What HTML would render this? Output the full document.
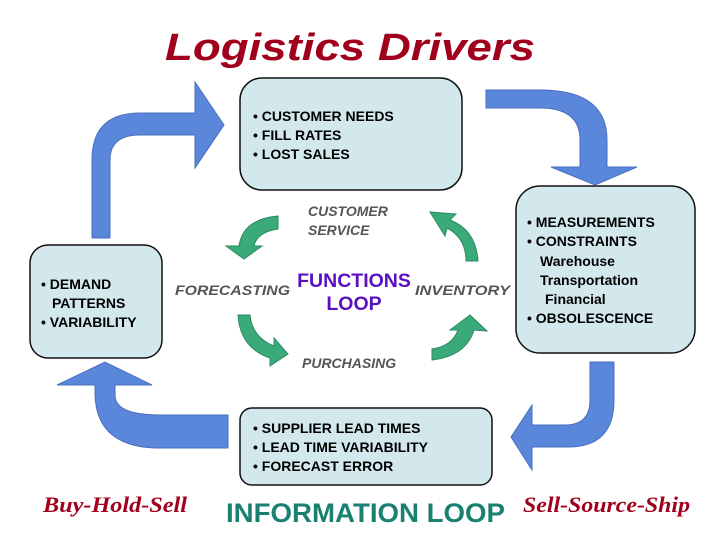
<!DOCTYPE html>
<html><head><meta charset="utf-8"><style>
body{margin:0;background:#fff;}
svg{display:block;}
.s{font-family:"Liberation Sans",Arial,sans-serif;}
.r{font-family:"Liberation Serif",serif;}
</style></head><body>
<svg width="720" height="540" viewBox="0 0 720 540" xmlns="http://www.w3.org/2000/svg">
<text class="s" x="165" y="60" font-size="38" font-weight="bold" font-style="italic" fill="#a0001c" textLength="370" lengthAdjust="spacingAndGlyphs">Logistics Drivers</text>

<g fill="#5b87db" stroke="#4a6fbf" stroke-width="1">
<path d="M92,238 L92,160 Q92,113 140,113 L195,113 L195,82 L224,125 L195,168 L195,135 L140,135 Q110,135 110,160 L110,238 Z"/>
<path d="M486,90 L540,90 Q607,90 607,140 L607,167 L637,167 L595,185 L551,167 L580,167 L580,140 Q580,108 540,108 L486,108 Z"/>
<path d="M590,362 L614,362 L614,400 Q614,447 568,447 L532,447 L532,470 L511,437 L532,405 L532,425 L565,425 Q590,425 590,400 Z"/>
<path d="M228,415 L228,448 L160,448 Q95,448 95,392 L95,385 L57,385 L105,362 L152,385 L115,385 L115,395 Q115,415 160,415 Z"/>
</g>

<g fill="#3aaa7a" stroke="#2a8a60" stroke-width="1">
<path d="M278,216 L278,229 Q257,232 254,246 L262,246 L244,259 L226,246 L239,246 Q243,219 278,216 Z"/>
<path d="M478,261 L466,261 Q466,238 447,228 L445,236 L430,212 L456,214 L450,220 Q476,230 478,261 Z"/>
<path d="M238,315 L250,315 Q252,337 274,346 L274,338 L288,354 L270,366 L270,358 Q240,348 238,315 Z"/>
<path d="M432,360 L432,349 Q452,346 458,330 L450,330 L470,315 L487,331 L474,330 Q466,356 432,360 Z"/>
</g>

<g fill="#d2e8ec" stroke="#111" stroke-width="1.5">
<rect x="240" y="78" width="222" height="112" rx="22"/>
<rect x="30" y="245" width="132" height="113" rx="18"/>
<rect x="516" y="186" width="179" height="167" rx="24"/>
<rect x="240" y="408" width="252" height="77" rx="12"/>
</g>

<g class="s" font-size="14" font-weight="bold" fill="#000">
<text x="253" y="121">• CUSTOMER NEEDS</text>
<text x="253" y="140">• FILL RATES</text>
<text x="253" y="159">• LOST SALES</text>
<text x="41" y="289">• DEMAND</text>
<text x="52" y="308">PATTERNS</text>
<text x="41" y="327">• VARIABILITY</text>
<text x="527" y="227">• MEASUREMENTS</text>
<text x="527" y="246">• CONSTRAINTS</text>
<text x="540" y="266">Warehouse</text>
<text x="540" y="285">Transportation</text>
<text x="545" y="304">Financial</text>
<text x="527" y="323">• OBSOLESCENCE</text>
<text x="253" y="433">• SUPPLIER LEAD TIMES</text>
<text x="253" y="452">• LEAD TIME VARIABILITY</text>
<text x="253" y="471">• FORECAST ERROR</text>
</g>

<g class="s" font-size="14" font-style="italic" font-weight="bold" fill="#555">
<text x="308" y="216">CUSTOMER</text>
<text x="308" y="235">SERVICE</text>
<text x="175" y="295" textLength="115" lengthAdjust="spacingAndGlyphs">FORECASTING</text>
<text x="415" y="295" textLength="95" lengthAdjust="spacingAndGlyphs">INVENTORY</text>
<text x="302" y="368">PURCHASING</text>
</g>
<text class="s" x="354" y="287" text-anchor="middle" font-size="19.5" font-weight="bold" fill="#5a10c0">FUNCTIONS</text>
<text class="s" x="354" y="310" text-anchor="middle" font-size="19.5" font-weight="bold" fill="#5a10c0">LOOP</text>

<text class="r" x="43" y="512" font-size="22" font-weight="bold" font-style="italic" fill="#a0001c" textLength="144" lengthAdjust="spacingAndGlyphs">Buy-Hold-Sell</text>
<text class="s" x="226" y="522" font-size="27" font-weight="bold" fill="#1a8070" textLength="279" lengthAdjust="spacingAndGlyphs">INFORMATION LOOP</text>
<text class="r" x="523" y="512" font-size="22" font-weight="bold" font-style="italic" fill="#a0001c" textLength="167" lengthAdjust="spacingAndGlyphs">Sell-Source-Ship</text>
</svg>
</body></html>
